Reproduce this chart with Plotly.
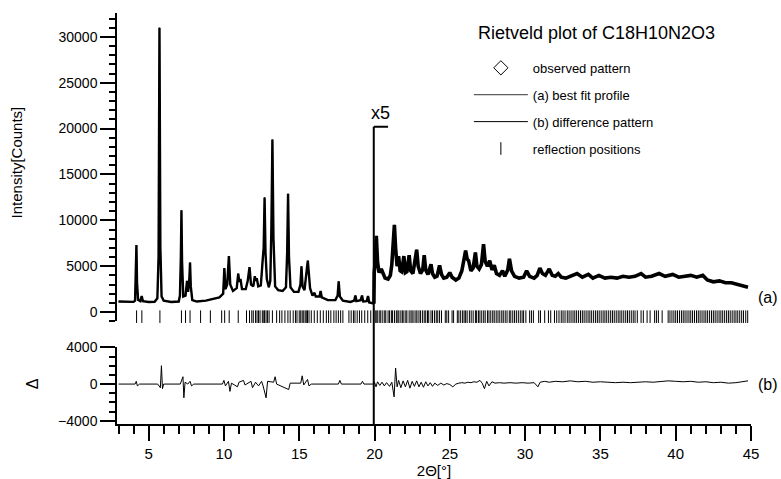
import plotly.graph_objects as go

# ---------------- data ----------------
# calculated / observed profile, 2theta in degrees; counts as displayed
# (values above 20 deg are shown magnified x5)
PROFILE_2THETA = [
    3.00, 3.50, 4.00, 4.10, 4.15, 4.19, 4.23, 4.30, 4.45, 4.54, 4.62, 5.00, 5.40, 5.58, 5.66, 5.72,
    5.78, 5.86, 6.00, 6.50, 7.00, 7.08, 7.14, 7.18, 7.22, 7.30, 7.45, 7.55, 7.62, 7.70, 7.75, 7.80,
    7.90, 8.20, 8.80, 9.30, 9.70, 9.95, 10.03, 10.10, 10.22, 10.33, 10.42, 10.60, 10.85, 10.95, 11.02,
    11.10, 11.20, 11.45, 11.58, 11.70, 11.80, 11.95, 12.05, 12.12, 12.18, 12.28, 12.45, 12.58, 12.64,
    12.70, 12.76, 12.85, 12.98, 13.08, 13.15, 13.22, 13.29, 13.40, 13.60, 13.90, 14.12, 14.20, 14.26,
    14.32, 14.42, 14.65, 14.95, 15.08, 15.15, 15.22, 15.35, 15.50, 15.57, 15.64, 15.72, 15.88, 16.00,
    16.10, 16.35, 16.42, 16.50, 16.90, 17.40, 17.55, 17.62, 17.70, 17.90, 18.40, 18.65, 18.73, 18.80,
    19.08, 19.17, 19.25, 19.48, 19.57, 19.65, 19.90, 19.96,
    19.98, 20.05, 20.12, 20.20, 20.30, 20.45, 20.55, 20.70, 20.90, 21.05, 21.15, 21.25, 21.32, 21.40,
    21.50, 21.60, 21.70, 21.80, 21.95, 22.05, 22.15, 22.30, 22.40, 22.55, 22.70, 22.80, 22.90, 23.05,
    23.20, 23.30, 23.40, 23.55, 23.75, 23.85, 24.00, 24.15, 24.32, 24.45, 24.60, 24.80, 25.00, 25.15,
    25.40, 25.60, 25.80, 25.95, 26.05, 26.15, 26.25, 26.40, 26.55, 26.70, 26.80, 26.95, 27.10, 27.24,
    27.35, 27.50, 27.65, 27.80, 27.95, 28.10, 28.30, 28.50, 28.65, 28.85, 28.96, 29.10, 29.30, 29.60,
    29.90, 30.10, 30.30, 30.60, 30.80, 30.98, 31.15, 31.35, 31.60, 31.80, 32.00, 32.20, 32.40, 32.70,
    33.00, 33.45, 33.80, 34.20, 34.50, 34.90, 35.30, 35.70, 36.10, 36.50, 36.90, 37.30, 37.70, 38.00,
    38.40, 38.90, 39.30, 39.80, 40.20, 40.60, 41.00, 41.40, 41.80, 42.10, 42.50, 42.90, 43.30, 43.70,
    44.10, 44.50, 44.80,
]
PROFILE_COUNTS = [
    1150, 1120, 1110, 1250, 3500, 7300, 3200, 1350, 1200, 1750, 1200, 1100, 1120, 1500, 6000, 31000,
    7000, 1700, 1250, 1100, 1150, 1800, 6000, 11100, 5500, 1700, 1800, 3400, 2200, 3500, 5400, 2800,
    1300, 1150, 1250, 1400, 1600, 2000, 4800, 2500, 3000, 6100, 3000, 2300, 2600, 4200, 3300,
    3600, 2500, 2500, 3400, 4900, 3000, 2800, 3900, 3400, 3700, 2800, 2900, 5800, 7000,
    12500, 6500, 3600, 2700, 3400, 9000, 18800, 8000, 2800, 2400, 2300, 2700, 6500, 12900,
    6000, 2700, 2200, 2200, 3000, 5000, 2800, 2400, 4600, 5600, 4200, 2600, 1800, 2100,
    1700, 1700, 2300, 1600, 1300, 1300, 1800, 3350, 1700, 1250, 1100, 1250, 1800, 1200,
    1300, 1800, 1150, 1200, 1750, 1050, 950, 900,
    4300, 5500, 8300, 5500, 4300, 4700, 4200, 3700, 3600, 4000, 5200, 7500, 9500, 7000,
    5000, 6100, 4500, 4400, 6100, 4300, 4400, 6200, 4500, 4200, 5800, 6800, 5000, 4200,
    4600, 6200, 4600, 4100, 5200, 4200, 3800, 3900, 5100, 4100, 3700, 3800, 4300, 3800,
    3500, 3700, 4500, 5800, 6700, 5800, 5600, 4500, 4800, 6500, 5000, 4700, 5200, 7400,
    5500, 5000, 5600, 4600, 5100, 4200, 4000, 4500, 3900, 4600, 5800, 4500, 3900, 3700,
    3800, 4500, 3900, 3700, 4000, 4800, 4200, 4000, 4700, 4000, 3900, 4200, 3800, 3700,
    3900, 4200, 3800, 4100, 3700, 4000, 3700, 3800, 3700, 3900, 3800, 3900, 4200, 3800,
    3900, 4200, 3900, 4100, 3800, 3900, 4000, 3800, 4000, 3500, 3300, 3400, 3200, 3200,
    3000, 2900, 2700,
]

# difference curve (observed - calculated), displayed counts
DIFF_2THETA = [
    3.0, 4.1, 4.18, 4.25, 4.4, 5.6, 5.78, 5.85, 5.92, 6.0, 7.1, 7.28, 7.34, 7.42, 7.6, 7.75, 7.85,
    8.0, 9.9, 10.0, 10.1, 10.3, 10.4, 10.5, 10.9, 11.0, 11.3, 11.4, 11.8, 11.9, 12.1, 12.3, 12.5,
    12.6, 12.8, 12.9, 13.3, 13.4, 13.5, 14.3, 14.4, 15.1, 15.2, 15.3, 15.55, 15.65, 15.8, 17.6,
    17.7, 17.8, 19.1, 19.2, 19.3, 19.95,
    20.0, 20.1, 20.2, 20.35, 20.5, 20.65, 20.8, 21.0, 21.15, 21.3, 21.4, 21.5, 21.6, 21.75, 21.9,
    22.05, 22.2, 22.35, 22.5, 22.65, 22.8, 22.95, 23.1, 23.25, 23.4, 23.55, 23.7, 23.85, 24.0,
    24.2, 24.4, 24.6, 24.8, 25.0, 25.2, 25.4, 25.6, 25.8, 26.0, 26.2, 26.4, 26.6, 26.8, 27.0,
    27.15, 27.3, 27.45, 27.6, 27.8, 28.0, 28.3, 28.6, 29.0, 29.4, 29.8, 30.2, 30.6, 30.85, 31.0,
    31.3, 31.6, 32.0, 32.5, 33.0, 33.5, 34.0, 34.5, 35.0, 35.5, 36.0, 36.5, 37.0, 37.5, 38.0,
    38.5, 39.0, 39.5, 40.0, 40.5, 41.0, 41.5, 42.0, 42.5, 43.0, 43.5, 44.0, 44.5, 44.8,
]
DIFF_COUNTS = [
    0, 0, 300, -200, 0, 0, -400, 2000, -500, 0, 0, 800, -1500, 200, 0, 300, -200,
    0, 0, 400, -200, 300, -800, 100, -300, 200, 400, -100, 300, -400, 200, -200, 300,
    -200, -1500, 300, 200, 800, 0, -600, 100, 100, 900, -100, 500, -200, 0, 0,
    400, 0, 0, 300, 0, 0,
    200, -300, 250, -150, 200, -200, 150, -250, 200, -1400, 1750, -300, 400, -400, 350,
    -300, 400, -450, 300, -250, 350, -300, 200, -350, 250, -200, 150, -250, 100,
    -150, 100, -100, 50, -50, -300, 0, 100, 150, 100, 200, 150, 250, 200, 400,
    100, -500, 300, -200, 250, 100, 150, 100, 150, 100, 150, 100, 150, -300, 200,
    300, 200, 300, 250, 350, 250, 300, 200, 250, 200, 150, 200, 150, 200, 250,
    200, 300, 350, 300, 250, 300, 200, 250, 150, 200, 100, 150, 250, 350,
]

# Bragg reflection positions (2theta, deg)
REFLECTIONS = [
    4.2, 4.55, 5.75, 7.18, 7.45, 7.75, 8.45, 9.1, 9.85, 10.05, 10.35, 10.95, 11.5, 11.7, 11.85,
    11.95, 12.1, 12.2, 12.3, 12.4, 12.55, 12.65, 12.7, 12.8, 12.9, 13.0, 13.22, 13.5, 13.7, 13.85,
    14.05, 14.25, 14.4, 14.6, 14.75, 14.85, 15.0, 15.1, 15.2, 15.3, 15.4, 15.5, 15.55, 15.65, 15.8,
    16.0, 16.2, 16.4, 16.6, 16.8, 16.95, 17.1, 17.3, 17.45, 17.6, 17.75, 17.9, 18.3, 18.45, 18.6,
    18.7, 18.85, 19.0, 19.15, 19.35, 19.55, 19.75,
    20.05, 20.15, 20.22, 20.35, 20.42, 20.55, 20.68, 20.75, 20.9, 21.0, 21.12, 21.2, 21.33, 21.45,
    21.55, 21.62, 21.75, 21.85, 21.95, 22.08, 22.15, 22.3, 22.42, 22.5, 22.62, 22.75, 22.82, 22.95,
    23.05, 23.18, 23.3, 23.4, 23.52, 23.6, 23.75, 23.85, 23.98, 24.1, 24.2, 24.32, 24.45, 24.7,
    24.8, 24.92, 25.15, 25.25, 25.5, 25.6, 25.72, 25.85, 25.95, 26.05, 26.15, 26.3, 26.42, 26.55,
    26.7, 26.78, 26.9, 27.0, 27.12, 27.25, 27.35, 27.5, 27.6, 27.72, 27.85, 27.95, 28.08, 28.2,
    28.32, 28.45, 28.55, 28.68, 28.8, 28.95, 29.05, 29.18, 29.3, 29.42, 29.55, 29.68, 29.8, 29.9,
    30.05, 30.3, 30.42, 30.55, 30.9, 31.02, 31.3, 31.55, 31.7, 31.95, 32.1, 32.25, 32.4, 32.52,
    32.65, 32.8, 32.92, 33.05, 33.18, 33.3, 33.42, 33.55, 33.68, 33.8, 33.92, 34.05, 34.18, 34.3,
    34.42, 34.55, 34.68, 34.8, 34.92, 35.05, 35.18, 35.3, 35.42, 35.55, 35.68, 35.8, 35.92, 36.05,
    36.18, 36.3, 36.42, 36.55, 36.68, 36.8, 36.92, 37.05, 37.18, 37.3, 37.45, 37.7, 37.85, 38.1,
    38.3, 38.6, 38.72, 38.85, 39.1, 39.5, 39.62, 39.75, 39.88, 40.0, 40.12, 40.25, 40.38, 40.5,
    40.62, 40.75, 40.88, 41.0, 41.12, 41.25, 41.38, 41.5, 41.62, 41.75, 41.88, 42.0, 42.12, 42.25,
    42.38, 42.5, 42.62, 42.75, 42.88, 43.0, 43.12, 43.25, 43.38, 43.5, 43.62, 43.75, 43.88, 44.0,
    44.12, 44.25, 44.38, 44.5, 44.65, 44.78,
]
REFLECTION_LEVEL = -500      # counts, row of tick marks under the pattern
BREAK_2THETA = 19.95         # start of the x5 magnified region
BREAK_LEVEL = 20200          # height of the "x5" bracket (counts)
BREAK_STUB_END = 20.9

TOP_RANGE = [-1000, 32600]
TOP_DOMAIN = [0.25, 1.0]
BOT_RANGE = [-4360, 4030]
BOT_DOMAIN = [0.0, 0.187]

FONT = "Liberation Sans, Arial, sans-serif"
BLACK = "#000000"

# split observed data at the x5 break (noisier, heavier band above it)
split = next(i for i, t in enumerate(PROFILE_2THETA) if t > BREAK_2THETA)

fig = go.Figure()

# observed pattern (dense diamonds -> drawn as a heavy trace)
fig.add_trace(go.Scatter(x=PROFILE_2THETA[:split + 1], y=PROFILE_COUNTS[:split + 1],
                         mode="lines", line=dict(color=BLACK, width=2.4), showlegend=False,
                         xaxis="x", yaxis="y", hoverinfo="skip"))
fig.add_trace(go.Scatter(x=PROFILE_2THETA[split:], y=PROFILE_COUNTS[split:],
                         mode="lines", line=dict(color=BLACK, width=3.6), showlegend=False,
                         xaxis="x", yaxis="y", hoverinfo="skip"))
# legend entry for observed pattern
fig.add_trace(go.Scatter(x=[None], y=[None], mode="markers", name="observed pattern",
                         marker=dict(symbol="diamond-open", size=11, color=BLACK,
                                     line=dict(width=1, color=BLACK)),
                         legendgroup="g1", xaxis="x", yaxis="y"))
# best-fit profile
fig.add_trace(go.Scatter(x=PROFILE_2THETA, y=PROFILE_COUNTS, mode="lines",
                         name="(a) best fit profile", line=dict(color=BLACK, width=0.8),
                         legendgroup="g2", xaxis="x", yaxis="y"))
# difference
fig.add_trace(go.Scatter(x=DIFF_2THETA, y=DIFF_COUNTS, mode="lines",
                         name="(b) difference pattern", line=dict(color=BLACK, width=1),
                         legendgroup="g3", xaxis="x", yaxis="y2"))
# reflection positions
fig.add_trace(go.Scatter(x=REFLECTIONS, y=[REFLECTION_LEVEL] * len(REFLECTIONS),
                         mode="markers", name="reflection positions",
                         marker=dict(symbol="line-ns-open", size=9, color=BLACK,
                                     line=dict(width=1, color=BLACK)),
                         cliponaxis=False, legendgroup="g4", xaxis="x", yaxis="y"))

# x5 bracket
top_frac = (BREAK_LEVEL - TOP_RANGE[0]) / (TOP_RANGE[1] - TOP_RANGE[0])
bracket_top = TOP_DOMAIN[0] + top_frac * (TOP_DOMAIN[1] - TOP_DOMAIN[0])
fig.add_shape(type="line", xref="x", yref="paper", x0=BREAK_2THETA, x1=BREAK_2THETA,
              y0=0, y1=bracket_top, line=dict(color=BLACK, width=2))
fig.add_shape(type="line", xref="x", yref="y", x0=BREAK_2THETA, x1=BREAK_STUB_END,
              y0=BREAK_LEVEL, y1=BREAK_LEVEL, line=dict(color=BLACK, width=2))

fig.add_annotation(text="x5", xref="x", yref="y", x=20.4, y=BREAK_LEVEL, yanchor="bottom",
                   yshift=2, showarrow=False, font=dict(family=FONT, size=18, color=BLACK))
fig.add_annotation(text="(a)", xref="paper", yref="y", x=1.0, y=1600, xanchor="left",
                   xshift=5, showarrow=False, font=dict(family=FONT, size=16, color=BLACK))
fig.add_annotation(text="(b)", xref="paper", yref="y2", x=1.0, y=0, xanchor="left",
                   xshift=5, showarrow=False, font=dict(family=FONT, size=16, color=BLACK))
fig.add_annotation(text="Intensity[Counts]", xref="paper", yref="paper", x=-0.158, y=0.636,
                   xanchor="center", yanchor="middle",
                   textangle=-90, showarrow=False, font=dict(family=FONT, size=15, color=BLACK))
fig.add_annotation(text="Δ", xref="paper", yref="paper", x=-0.134, y=0.097,
                   xanchor="center", yanchor="middle",
                   textangle=-90, showarrow=False, font=dict(family=FONT, size=16, color=BLACK))
fig.add_annotation(text="Rietveld plot of C18H10N2O3", xref="paper", yref="paper",
                   x=0.566, y=0.951, xanchor="left", yanchor="middle", showarrow=False,
                   font=dict(family=FONT, size=18, color=BLACK))

axis_common = dict(showgrid=False, zeroline=False, showline=True, linecolor=BLACK,
                   linewidth=1.5, ticks="outside", tickcolor=BLACK, tickwidth=1.5,
                   tickformat="d", automargin=False)
y_font = dict(family=FONT, size=14, color=BLACK)
x_font = dict(family=FONT, size=15, color=BLACK)
minor_y = dict(dtick=1000, ticklen=6, tickcolor=BLACK, tickwidth=1.5, ticks="outside")

fig.update_layout(
    width=781, height=479,
    margin=dict(l=117, r=30, t=13, b=55, autoexpand=False),
    paper_bgcolor="white", plot_bgcolor="white",
    font=dict(family=FONT, color=BLACK),
    xaxis=dict(**axis_common, range=[2.9, 45], anchor="y2", dtick=5, tick0=0, ticklen=15,
               tickfont=x_font,
               minor=dict(dtick=1, ticklen=8, tickcolor=BLACK, tickwidth=1.5, ticks="outside"),
               title=dict(text="2Θ[°]", font=x_font, standoff=2)),
    yaxis=dict(**axis_common, domain=TOP_DOMAIN, range=TOP_RANGE, dtick=5000, tick0=0,
               ticklen=15, tickfont=y_font, minor=minor_y),
    yaxis2=dict(**axis_common, domain=BOT_DOMAIN, range=BOT_RANGE, dtick=4000, tick0=0,
                ticklen=15, tickfont=y_font, minor=minor_y),
    legend=dict(x=0.555, y=0.903, xanchor="left", yanchor="top", bgcolor="rgba(0,0,0,0)",
                font=dict(family=FONT, size=13, color=BLACK), tracegroupgap=7, itemwidth=54),
    showlegend=True,
)

fig.write_html("out.html", config={"displayModeBar": False},
               post_script="document.body.style.margin='0px';")
